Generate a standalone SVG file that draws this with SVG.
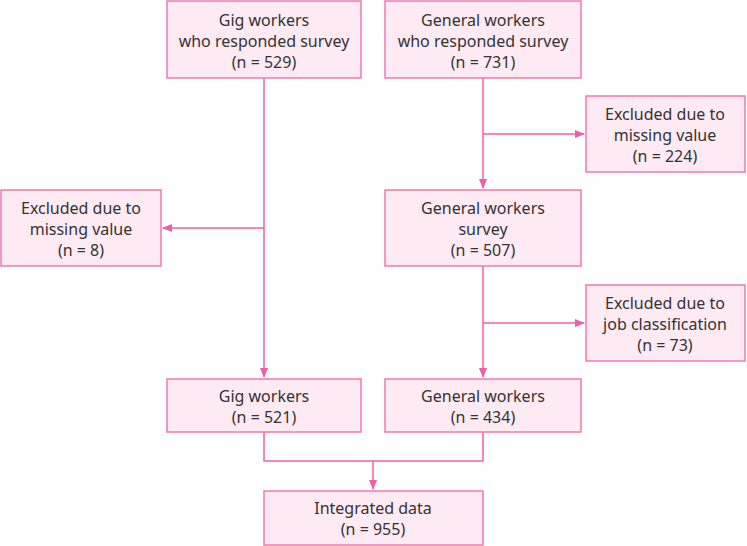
<svg xmlns="http://www.w3.org/2000/svg" width="747" height="546" viewBox="0 0 747 546">
<style>
.box{fill:#fdeaf3;stroke:#f07ab0;stroke-width:1.5}
.t{font-family:"Noto Sans","Liberation Sans",sans-serif;font-size:16px;fill:#333;text-anchor:middle}
.c{stroke:#f05fa5;stroke-width:1.5;fill:none}
</style>
<defs>
<marker id="ah" markerWidth="10" markerHeight="8" refX="9" refY="4" orient="auto" markerUnits="userSpaceOnUse">
<path d="M0,0 L10,4 L0,8 Z" fill="#f05fa5"/>
</marker>
</defs>
<rect width="747" height="546" fill="#fff"/>
<g id="connectors">
<path class="c" d="M264,78 V377" marker-end="url(#ah)"/>
<path class="c" d="M264,228 H163" marker-end="url(#ah)"/>
<path class="c" d="M483,78 V188" marker-end="url(#ah)"/>
<path class="c" d="M483,134 H584" marker-end="url(#ah)"/>
<path class="c" d="M483,266 V377" marker-end="url(#ah)"/>
<path class="c" d="M483,323 H584" marker-end="url(#ah)"/>
<path class="c" d="M264,432 V461 H483 V432"/>
<path class="c" d="M373,461 V489" marker-end="url(#ah)"/>
</g>
<g id="gig-survey">
<rect class="box" x="167" y="1" width="194" height="77"/>
<text class="t" x="264" y="26">Gig workers</text>
<text class="t" x="264" y="47">who responded survey</text>
<text class="t" x="264" y="68">(n = 529)</text>
</g>
<g id="general-survey-resp">
<rect class="box" x="385" y="1" width="196" height="77"/>
<text class="t" x="483" y="26">General workers</text>
<text class="t" x="483" y="47">who responded survey</text>
<text class="t" x="483" y="68">(n = 731)</text>
</g>
<g id="excl-224">
<rect class="box" x="586" y="96" width="159" height="76"/>
<text class="t" x="665" y="120">Excluded due to</text>
<text class="t" x="665" y="141">missing value</text>
<text class="t" x="665" y="162">(n = 224)</text>
</g>
<g id="excl-8">
<rect class="box" x="1" y="190" width="160" height="76"/>
<text class="t" x="81" y="214">Excluded due to</text>
<text class="t" x="81" y="235">missing value</text>
<text class="t" x="81" y="256">(n = 8)</text>
</g>
<g id="general-survey">
<rect class="box" x="385" y="190" width="196" height="76"/>
<text class="t" x="483" y="214">General workers</text>
<text class="t" x="483" y="235">survey</text>
<text class="t" x="483" y="256">(n = 507)</text>
</g>
<g id="excl-73">
<rect class="box" x="586" y="285" width="159" height="76"/>
<text class="t" x="665" y="309">Excluded due to</text>
<text class="t" x="665" y="330">job classification</text>
<text class="t" x="665" y="351">(n = 73)</text>
</g>
<g id="gig-workers">
<rect class="box" x="167" y="379" width="194" height="53"/>
<text class="t" x="264" y="402">Gig workers</text>
<text class="t" x="264" y="423">(n = 521)</text>
</g>
<g id="general-workers">
<rect class="box" x="385" y="379" width="196" height="53"/>
<text class="t" x="483" y="402">General workers</text>
<text class="t" x="483" y="423">(n = 434)</text>
</g>
<g id="integrated">
<rect class="box" x="264" y="491" width="219" height="54"/>
<text class="t" x="373" y="514">Integrated data</text>
<text class="t" x="373" y="535">(n = 955)</text>
</g>
</svg>
